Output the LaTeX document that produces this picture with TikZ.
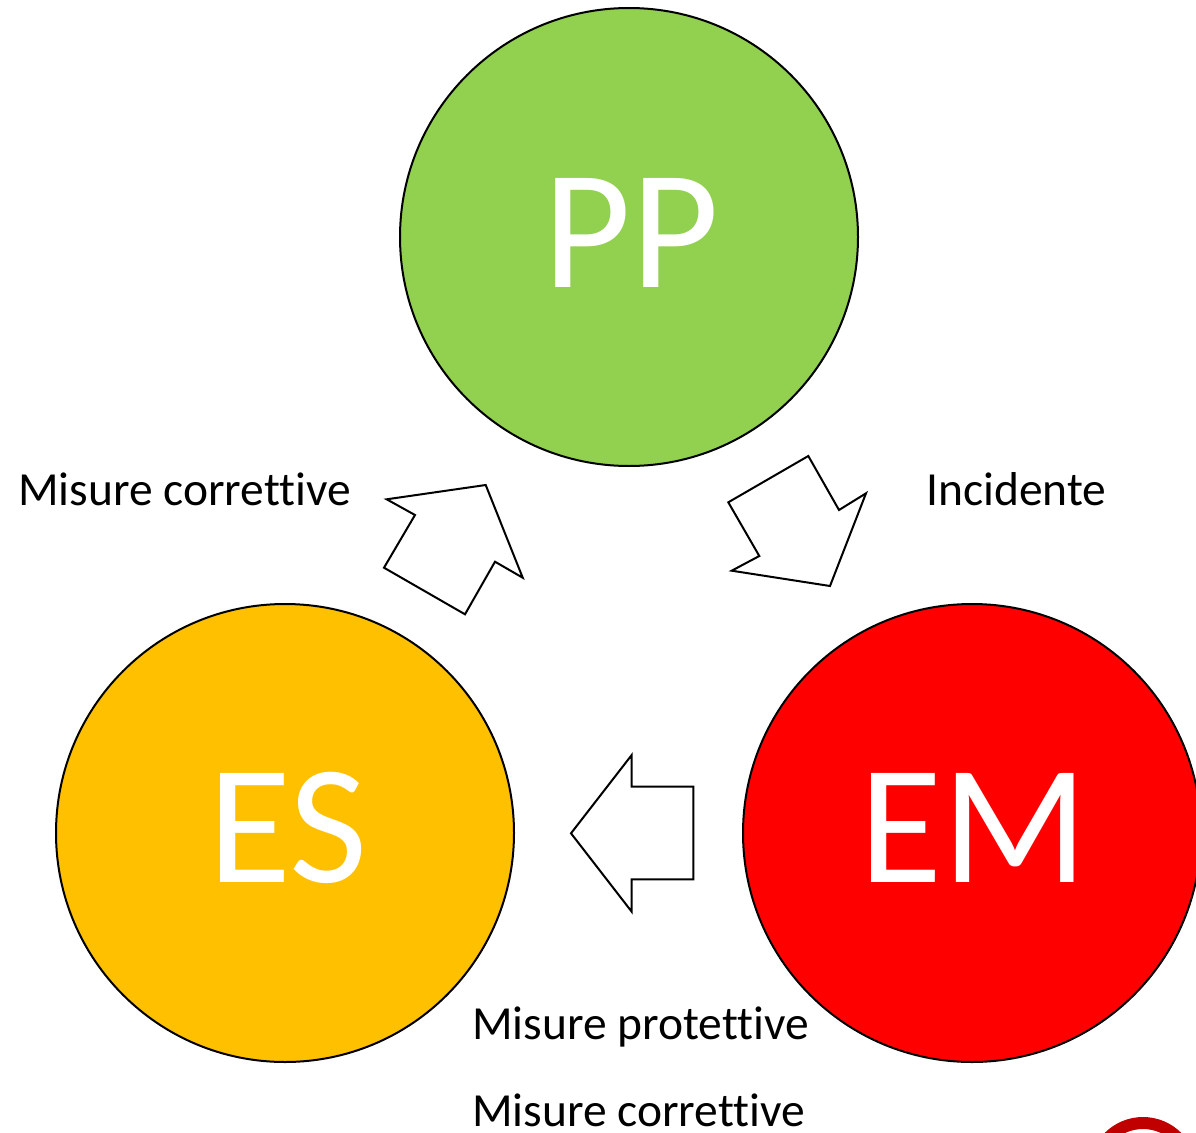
\documentclass[tikz,border=0pt]{standalone}
\usepackage{fontspec}
\setmainfont{Carlito}[Ligatures={NoCommon}]
\definecolor{ppgreen}{HTML}{92D050}
\definecolor{esorange}{HTML}{FFC000}
\definecolor{emred}{HTML}{FF0000}
\definecolor{ringred}{HTML}{C00000}
\begin{document}
\begin{tikzpicture}[x=1pt,y=-1pt,
  state/.style={circle,draw=black,line width=2pt,minimum size=458pt,inner sep=0pt},
  bigtxt/.style={text=white,font=\fontsize{170}{170}\selectfont,inner sep=0pt,anchor=base},
  lbl/.style={font=\fontsize{47.5}{47.5}\selectfont,inner sep=0pt,anchor=base west},
  blockarrow/.style={draw=black,fill=white,line width=2pt,line join=miter}]
\useasboundingbox (0,0) rectangle (1196,1132);
\clip (0,0) rectangle (1196,1132);
\fill[white] (0,0) rectangle (1196,1132);
% circles
\node[state,fill=ppgreen] (pp) at (629,237) {};
\node[state,fill=esorange] (es) at (285,833) {};
\node[state,fill=emred] (em) at (972,833) {};
\node[bigtxt] (pptxt) at (631,287) {PP};
\node[bigtxt] (estxt) at (288,882) {ES};
\node[bigtxt] (emtxt) at (974,882) {EM};
% block arrows
\draw[blockarrow] (386.7,499.3) -- (485.7,485) -- (522.7,577.7) -- (495,561.7) -- (465,614.3) -- (384,567.7) -- (415,515) -- cycle;
\draw[blockarrow] (728.3,502.3) -- (808.3,456) -- (839,510) -- (866,493.3) -- (830,586) -- (731.7,570.7) -- (759.3,556) -- cycle;
\draw[blockarrow] (571,833.3) -- (631.7,755) -- (631.7,786.7) -- (693.3,786.7) -- (693.3,879.3) -- (631.7,879.3) -- (631.7,911.7) -- cycle;
% labels
\node[lbl] (l1) at (18,505) {Misure correttive};
\node[lbl] (l2) at (926,505) {Incidente};
\node[lbl] (l3) at (472,1039) {Misure protettive};
\node[lbl] (l4) at (472,1126) {Misure correttive};
% partial ring bottom right
\draw[ringred,line width=12pt] (1143,1171) circle[radius=48];
\end{tikzpicture}
\end{document}
